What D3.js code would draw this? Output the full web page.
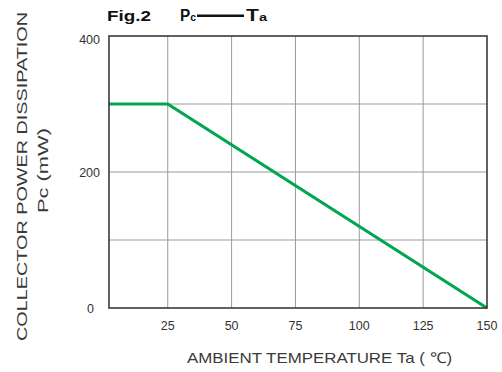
<!DOCTYPE html>
<html>
<head>
<meta charset="utf-8">
<script src="https://cdn.jsdelivr.net/npm/d3@7"></script>
<style>
  body { margin: 0; background: #fff; }
  text { font-family: "Liberation Sans", Arial, sans-serif; }
</style>
</head>
<body>
<div id="grafica"></div>
<script>
// datos de la curva Pc - Ta
var temps = [2, 25, 150];
var power = [300, 300, 0];
var xTicks = [25, 50, 75, 100, 125, 150];
var yTicks = [0, 200, 400];
var yGrid = [100, 200, 300];

var margin = { top: 36, right: 15, bottom: 64, left: 109 },
  width = 502 - margin.left - margin.right,
  height = 372 - margin.top - margin.bottom;

var root = d3.select("#grafica")
  .append("svg")
  .attr("width", 502)
  .attr("height", 372);

var svg = root.append("g")
  .attr("transform", "translate(" + margin.left + "," + margin.top + ")");

var x = d3.scaleLinear().domain([2, 150]).range([0, width]);
var y = d3.scaleLinear().domain([0, 400]).range([height, 0]);

// rejilla vertical
svg.selectAll(".vgrid")
  .data(xTicks.slice(0, -1))
  .enter()
  .append("line")
  .attr("x1", d => x(d)).attr("x2", d => x(d))
  .attr("y1", 0).attr("y2", height)
  .style("stroke", "#9a9a9a")
  .style("stroke-width", 1);

// rejilla horizontal
svg.selectAll(".hgrid")
  .data(yGrid)
  .enter()
  .append("line")
  .attr("x1", 0).attr("x2", width)
  .attr("y1", d => y(d)).attr("y2", d => y(d))
  .style("stroke", "#9a9a9a")
  .style("stroke-width", 1);

// curva
var line = d3.line()
  .x((d, i) => x(temps[i]))
  .y(d => y(d));
svg.append("path")
  .datum(power)
  .attr("d", line)
  .style("fill", "none")
  .style("stroke", "#00a651")
  .style("stroke-width", 3.2);

// marco
svg.append("rect")
  .attr("x", 0).attr("y", 0)
  .attr("width", width).attr("height", height)
  .style("fill", "none")
  .style("stroke", "#3a3a3a")
  .style("stroke-width", 1.6);

// etiquetas eje x
svg.selectAll(".xlab")
  .data(xTicks)
  .enter()
  .append("text")
  .attr("x", d => x(d))
  .attr("y", height + 22)
  .attr("text-anchor", "middle")
  .style("font-size", "12.5px")
  .style("fill", "#333")
  .text(d => d);

// etiquetas eje y
svg.selectAll(".ylab")
  .data(yTicks)
  .enter()
  .append("text")
  .attr("x", d => d === 0 ? -15 : -9)
  .attr("y", d => y(d) + (d === 400 ? 8 : 5))
  .attr("text-anchor", "end")
  .style("font-size", "12.5px")
  .style("fill", "#333")
  .text(d => d);

// titulo eje x
root.append("text")
  .attr("x", 187)
  .attr("y", 363)
  .attr("textLength", 265)
  .attr("lengthAdjust", "spacingAndGlyphs")
  .style("font-size", "15px")
  .style("fill", "#3a3a3a")
  .text("AMBIENT TEMPERATURE Ta ( \u2103)");

// titulo eje y
root.append("text")
  .attr("transform", "translate(27,341) rotate(-90)")
  .attr("textLength", 329)
  .attr("lengthAdjust", "spacingAndGlyphs")
  .style("font-size", "14.5px")
  .style("fill", "#3a3a3a")
  .text("COLLECTOR POWER DISSIPATION");
root.append("text")
  .attr("transform", "translate(48,213) rotate(-90)")
  .attr("textLength", 85)
  .attr("lengthAdjust", "spacingAndGlyphs")
  .style("font-size", "14.5px")
  .style("fill", "#3a3a3a")
  .text("Pc (mW)");

// titulo figura
root.append("text")
  .attr("x", 107)
  .attr("y", 21)
  .attr("textLength", 44)
  .attr("lengthAdjust", "spacingAndGlyphs")
  .style("font-size", "15.5px")
  .style("font-weight", "bold")
  .style("fill", "#111")
  .text("Fig.2");
var title = root.append("text")
  .attr("x", 180)
  .attr("y", 21)
  .attr("textLength", 16)
  .attr("lengthAdjust", "spacingAndGlyphs")
  .style("font-weight", "bold")
  .style("fill", "#111");
title.append("tspan").style("font-size", "16px").text("P");
title.append("tspan").style("font-size", "11px").text("c");
root.append("line")
  .attr("x1", 197).attr("x2", 244)
  .attr("y1", 15.7).attr("y2", 15.7)
  .style("stroke", "#111")
  .style("stroke-width", 2.4);
var title2 = root.append("text")
  .attr("x", 246)
  .attr("y", 21)
  .attr("textLength", 21)
  .attr("lengthAdjust", "spacingAndGlyphs")
  .style("font-weight", "bold")
  .style("fill", "#111");
title2.append("tspan").style("font-size", "16px").text("T");
title2.append("tspan").style("font-size", "11px").text("a");
</script>
</body>
</html>
